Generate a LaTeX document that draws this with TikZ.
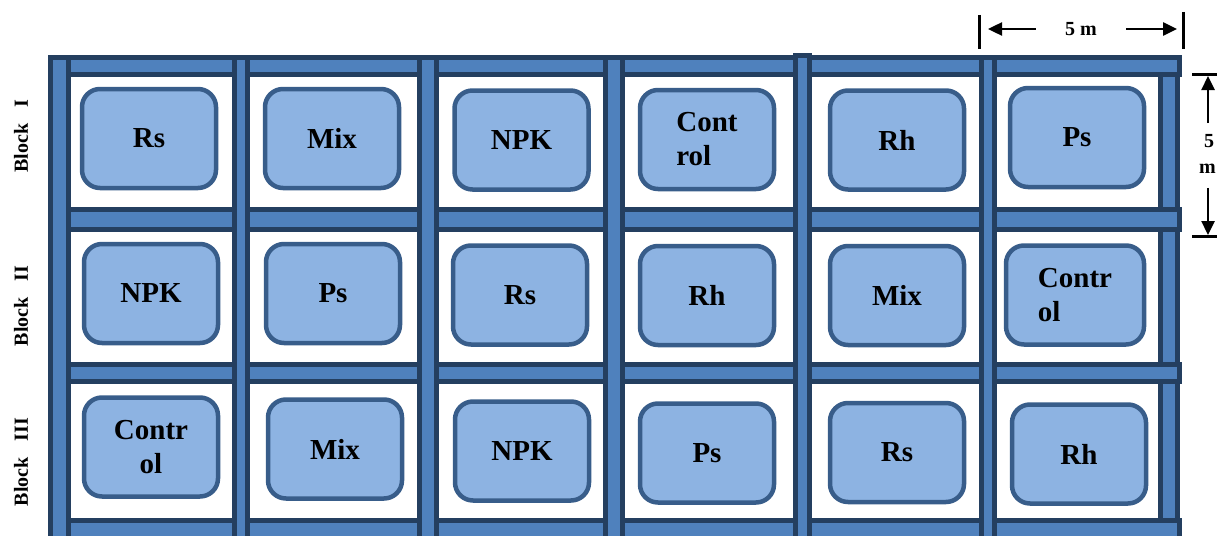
\documentclass[tikz,border=0pt]{standalone}
\usepackage{fontspec}
\setmainfont{Liberation Serif}
\usetikzlibrary{arrows.meta, positioning}

\definecolor{barfill}{HTML}{4F81BD}
\definecolor{barline}{HTML}{243F60}
\definecolor{plotfill}{HTML}{8DB3E2}
\definecolor{plotline}{HTML}{385D8A}

\begin{document}
\begin{tikzpicture}[
    x=1pt, y=-1pt,
    bar/.style={draw=barline, fill=barfill, line width=5pt},
    plot/.style={rectangle, draw=plotline, fill=plotfill, line width=4.5pt, rounded corners=18pt, minimum width=134pt, minimum height=99pt, inner sep=0pt, align=center, font=\fontsize{29}{34}\selectfont\bfseries},
    blocklabel/.style={rotate=90, font=\fontsize{20}{24}\selectfont\bfseries},
    dimlabel/.style={font=\fontsize{20}{24}\selectfont\bfseries, inner sep=0pt},
    dimarrow/.style={-{Triangle[length=14pt, width=13pt]}, line width=2.5pt},
    tick/.style={line width=3pt}
]
\useasboundingbox (0,0) rectangle (1217,535);
\clip (0,0) rectangle (1217,535);

% Right post (under the rails)
\draw[bar] (1160.5,57.5) rectangle (1177.5,550);

% Rails
\foreach \ya/\yb in {57.5/74.5, 209.5/229.5, 364.5/381.5, 520.5/550}
    \draw[bar] (50.5,\ya) rectangle (1179.5,\yb);

% Posts
\foreach \xa/\xb in {50.5/68.5, 234.5/247.5, 419.5/436.5, 605.5/622.5, 981.5/994.5}
    \draw[bar] (\xa,57.5) rectangle (\xb,550);
\draw[bar] (795.5,55.5) rectangle (809.5,550);

% Block I
\node[plot] (b1rs) at (149,138.5) {Rs};
\node[plot] (b1mix) at (332,138.5) {Mix};
\node[plot] (b1npk) at (521.5,140) {NPK};
\node[plot, align=left] (b1ctrl) at (707,139.5) {Cont\\rol};
\node[plot] (b1rh) at (897,140) {Rh};
\node[plot] (b1ps) at (1077,137.5) {Ps};

% Block II
\node[plot] (b2npk) at (151,293.5) {NPK};
\node[plot] (b2ps) at (333,293.5) {Ps};
\node[plot] (b2rs) at (520,295) {Rs};
\node[plot] (b2rh) at (707,295.5) {Rh};
\node[plot] (b2mix) at (897,295.5) {Mix};
\node[plot, align=left, minimum width=138pt] (b2ctrl) at (1075,295) {Contr\\ol};

% Block III
\node[plot] (b3ctrl) at (151,447) {Contr\\ol};
\node[plot] (b3mix) at (335,449) {Mix};
\node[plot] (b3npk) at (522,451) {NPK};
\node[plot] (b3ps) at (707,453) {Ps};
\node[plot] (b3rs) at (897,452.5) {Rs};
\node[plot] (b3rh) at (1079,454) {Rh};

% Block labels
\node[blocklabel] (blk1) at (21,136) {Block\hspace{0.8em}I};
\node[blocklabel] (blk2) at (21,306) {Block\hspace{0.8em}II};
\node[blocklabel] (blk3) at (21,462) {Block\hspace{0.8em}III};

% Plot width
\node[dimlabel, inner xsep=29pt] (topdim) at (1081,29) {5 m};
\coordinate (topL) at (988,29);
\coordinate (topR) at (1177,29);
\draw[dimarrow] (topdim.west) -- (topL);
\draw[dimarrow] (topdim.east) -- (topR);
\draw[tick] (979,15) -- (979,49);
\draw[tick] (1183,12) -- (1183,49);

% Plot length
\node[dimlabel, inner ysep=11pt] (side5) at (1209,141) {5};
\node[dimlabel, inner ysep=14pt] (sidem) at (1207.5,169) {m};
\coordinate (sideT) at (1208,76);
\coordinate (sideB) at (1208,235);
\draw[dimarrow] (side5.north -| sideT) -- (sideT);
\draw[dimarrow] (sidem.south -| sideB) -- (sideB);
\draw[tick] (1192,74.5) -- (1220,74.5);
\draw[tick] (1192,236) -- (1220,236);
\end{tikzpicture}
\end{document}
